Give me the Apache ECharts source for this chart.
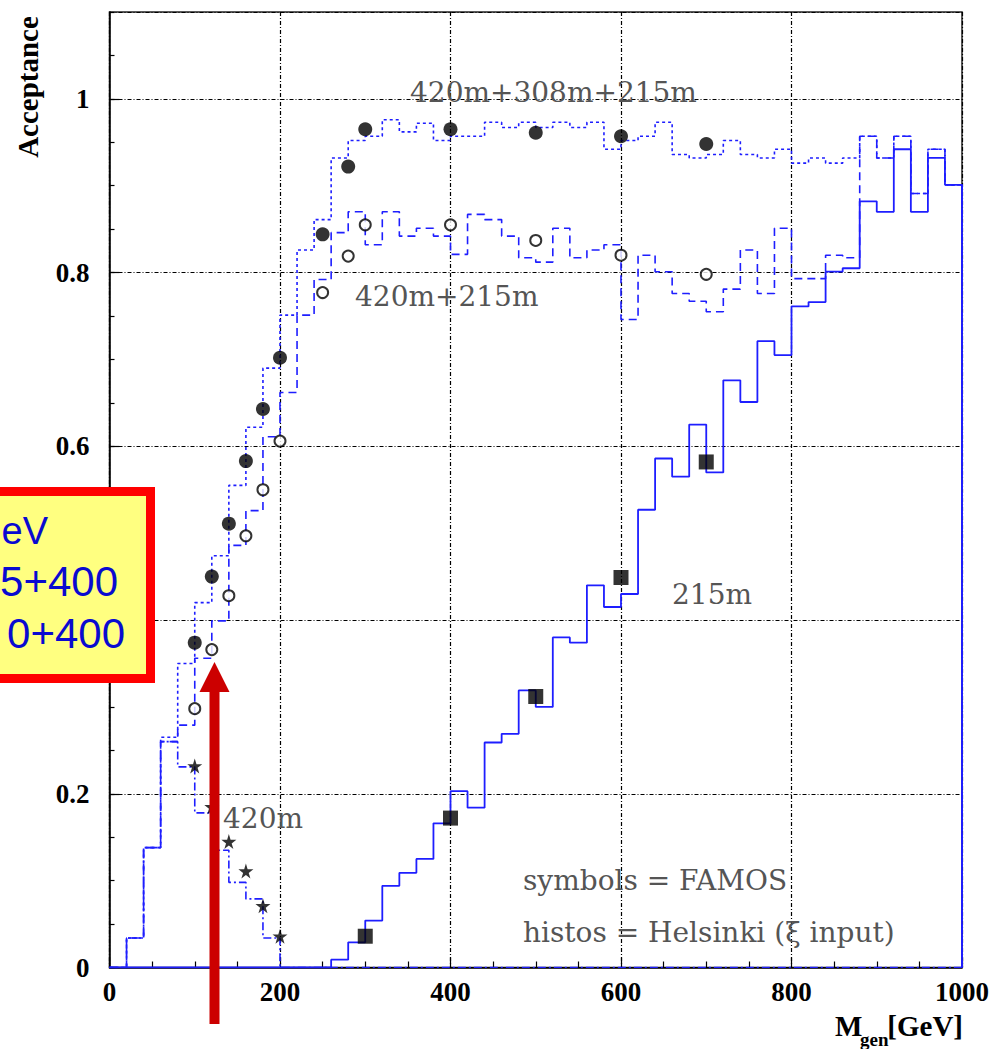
<!DOCTYPE html>
<html>
<head>
<meta charset="utf-8">
<script src="https://cdn.jsdelivr.net/npm/echarts/dist/echarts.min.js"></script>
<style>
  html, body { margin: 0; padding: 0; background: #fff; }
  #chart { width: 1003px; height: 1049px; }
</style>
</head>
<body>
<div id="chart"></div>
<script>
// ---- data (bins of 20 GeV from 0 to 1000) ----
const binWidth = 20;
const xTicks = [0, 200, 400, 600, 800, 1000];
// y tick labels that are visible (0.4 is hidden behind the yellow box in the reference)
const yTickLabels = ['0', '0.2', '0.6', '0.8', '1'];

// 420m+308m+215m (dotted histogram)
const hist420_308_215 = [
  0, 0.034, 0.138, 0.265, 0.350, 0.420, 0.474, 0.555, 0.622, 0.690,
  0.751, 0.826, 0.861, 0.932, 0.952, 0.957, 0.976, 0.962, 0.972, 0.952,
  0.957, 0.957, 0.973, 0.967, 0.973, 0.967, 0.973, 0.967, 0.973, 0.942,
  0.952, 0.957, 0.973, 0.936, 0.932, 0.936, 0.952, 0.936, 0.932, 0.942,
  0.926, 0.932, 0.926, 0.932, 0.957, 0.932, 0.957, 0.891, 0.942, 0.901
];
// 420m+215m (dashed histogram)
const hist420_215 = [
  0, 0.034, 0.138, 0.260, 0.279, 0.356, 0.399, 0.486, 0.526, 0.611,
  0.662, 0.751, 0.792, 0.846, 0.870, 0.832, 0.870, 0.842, 0.851, 0.842,
  0.821, 0.867, 0.861, 0.842, 0.817, 0.812, 0.851, 0.817, 0.826, 0.832,
  0.746, 0.820, 0.801, 0.776, 0.767, 0.755, 0.781, 0.826, 0.776, 0.851,
  0.793, 0.793, 0.820, 0.817, 0.957, 0.932, 0.957, 0.891, 0.942, 0.901
];
// 215m (solid histogram)
const hist215 = [
  0, 0, 0, 0, 0, 0, 0, 0, 0, 0,
  0, 0, 0, 0.009, 0.029, 0.054, 0.094, 0.109, 0.125, 0.166,
  0.203, 0.184, 0.259, 0.269, 0.319, 0.300, 0.380, 0.374, 0.440, 0.415,
  0.430, 0.527, 0.586, 0.565, 0.625, 0.570, 0.676, 0.651, 0.721, 0.705,
  0.761, 0.766, 0.801, 0.805, 0.882, 0.870, 0.942, 0.870, 0.932, 0.901
];
// 420m (dash-dot histogram)
const hist420 = [
  0, 0.034, 0.138, 0.260, 0.231, 0.178, 0.135, 0.098, 0.079, 0.034,
  0, 0, 0, 0, 0, 0, 0, 0, 0, 0,
  0, 0, 0, 0, 0, 0, 0, 0, 0, 0,
  0, 0, 0, 0, 0, 0, 0, 0, 0, 0,
  0, 0, 0, 0, 0, 0, 0, 0, 0, 0
];

// FAMOS points
const famosMass = [100, 120, 140, 160, 180, 200, 250, 280, 300, 400, 500, 600, 700];
const famos420_308_215 = [0.374, 0.450, 0.511, 0.583, 0.643, 0.702, 0.844, 0.922, 0.965, 0.965, 0.961, 0.957, 0.948];
const famos420_215 = [0.298, 0.366, 0.428, 0.497, 0.550, 0.606, 0.777, 0.819, 0.855, 0.855, 0.837, 0.820, 0.798];
const famos420Mass = [100, 120, 140, 160, 180, 200];
const famos420 = [0.232, 0.185, 0.145, 0.111, 0.071, 0.036];
const famos215Mass = [300, 400, 500, 600, 700];
const famos215 = [0.036, 0.172, 0.312, 0.449, 0.582];

// ---- helpers ----
function toSteps(vals) {
  const pts = vals.map((v, i) => [i * binWidth, v]);
  const end = vals.length * binWidth;
  pts.push([end, vals[vals.length - 1]]);
  pts.push([end, 0]);
  return pts;
}
function zip(xs, ys) { return xs.map((x, i) => [x, ys[i]]); }

const BLUE = '#1e1eff';
const starPath = 'path://M50,0 L61,35 L98,35 L68,57 L79,91 L50,70 L21,91 L32,57 L2,35 L39,35 Z';
const tickFont = { fontFamily: '"Liberation Serif", serif', fontWeight: 'bold', fontSize: 27, color: '#000' };
const annFont = '28px "DejaVu Serif", serif';
const annColor = '#555';

const chart = echarts.init(document.getElementById('chart'), null, { renderer: 'svg' });

const option = {
  animation: false,
  backgroundColor: '#fff',
  grid: { left: 109.5, right: 41, top: 12, bottom: 81.5, show: true, borderColor: '#222', borderWidth: 1.5, backgroundColor: 'transparent' },
  xAxis: {
    type: 'value', min: xTicks[0], max: xTicks[xTicks.length - 1], interval: 200,
    axisLine: { show: true, lineStyle: { color: '#000', width: 1.5 } },
    axisTick: { show: true, inside: true, length: 10, lineStyle: { color: '#000', width: 1.2 } },
    minorTick: { show: true, splitNumber: 4, length: 6, lineStyle: { color: '#000', width: 1.2 } },
    axisLabel: Object.assign({ margin: 11, formatter: v => String(v) }, tickFont),
    splitLine: { show: true, lineStyle: { color: '#000', width: 1.2, type: [4, 2, 1, 2] } }
  },
  yAxis: [
    {
      type: 'value', min: 0, max: 1.1, interval: 0.2,
      axisLine: { show: true, lineStyle: { color: '#000', width: 1.5 } },
      axisTick: { show: true, inside: true, length: 10, lineStyle: { color: '#000', width: 1.2 } },
      axisLabel: Object.assign({ margin: 20, showMaxLabel: false, formatter: v => {
        const s = String(Math.round(v * 10) / 10);
        return yTickLabels.indexOf(s) >= 0 ? s : '';
      } }, tickFont),
      splitLine: { show: true, lineStyle: { color: '#000', width: 1.2, type: [4, 2, 1, 2] } }
    },
    {
      type: 'value', min: 0, max: 1.1, interval: 0.05, position: 'left',
      axisLine: { show: false },
      axisTick: { show: true, inside: true, length: 5, lineStyle: { color: '#000', width: 1.2 } },
      axisLabel: { show: false },
      splitLine: { show: false }
    }
  ],
  series: [
    { name: '420m', type: 'line', step: 'end', data: toSteps(hist420), showSymbol: false, symbol: 'none', z: 3,
      lineStyle: { color: BLUE, width: 1.6, type: [8, 3, 2, 3] } },
    { name: '420m+215m', type: 'line', step: 'end', data: toSteps(hist420_215), showSymbol: false, symbol: 'none', z: 3,
      lineStyle: { color: BLUE, width: 1.6, type: [8, 5] } },
    { name: '420m+308m+215m', type: 'line', step: 'end', data: toSteps(hist420_308_215), showSymbol: false, symbol: 'none', z: 3,
      lineStyle: { color: BLUE, width: 1.6, type: [3, 3] } },
    { name: '215m', type: 'line', step: 'end', data: toSteps(hist215), showSymbol: false, symbol: 'none', z: 4,
      lineStyle: { color: BLUE, width: 1.8, type: 'solid' } },
    { name: 'FAMOS 420m+308m+215m', type: 'scatter', data: zip(famosMass, famos420_308_215), symbol: 'circle', symbolSize: 14, z: 6,
      itemStyle: { color: '#000' } },
    { name: 'FAMOS 420m+215m', type: 'scatter', data: zip(famosMass, famos420_215), symbol: 'circle', symbolSize: 11, z: 6,
      itemStyle: { color: '#fff', borderColor: '#000', borderWidth: 2 } },
    { name: 'FAMOS 420m', type: 'scatter', data: zip(famos420Mass, famos420), symbol: starPath, symbolSize: 15, z: 6,
      itemStyle: { color: '#000' } },
    { name: 'FAMOS 215m', type: 'scatter', data: zip(famos215Mass, famos215), symbol: 'rect', symbolSize: 15, z: 6,
      itemStyle: { color: '#000' } }
  ],
  graphic: [
    // axis titles
    { type: 'text', x: 28, y: 87, rotation: Math.PI / 2, z: 20,
      style: { text: 'Acceptance', font: 'bold 29px "Liberation Serif", serif', fill: '#000', align: 'center', verticalAlign: 'middle' } },
    { type: 'text', x: 835, y: 1026, z: 20,
      style: { text: 'M', font: 'bold 29px "Liberation Serif", serif', fill: '#000', align: 'left', verticalAlign: 'middle' } },
    { type: 'text', x: 860, y: 1039, z: 20,
      style: { text: 'gen', font: 'bold 19px "Liberation Serif", serif', fill: '#000', align: 'left', verticalAlign: 'middle' } },
    { type: 'text', x: 963, y: 1026, z: 20,
      style: { text: '[GeV]', font: 'bold 29px "Liberation Serif", serif', fill: '#000', align: 'right', verticalAlign: 'middle' } },
    // annotations
    { type: 'text', x: 410, y: 92, z: 20, style: { text: '420m+308m+215m', font: annFont, fill: annColor, align: 'left', verticalAlign: 'middle' } },
    { type: 'text', x: 355, y: 296, z: 20, style: { text: '420m+215m', font: annFont, fill: annColor, align: 'left', verticalAlign: 'middle' } },
    { type: 'text', x: 672, y: 594, z: 20, style: { text: '215m', font: annFont, fill: annColor, align: 'left', verticalAlign: 'middle' } },
    { type: 'text', x: 223, y: 818, z: 20, style: { text: '420m', font: annFont, fill: annColor, align: 'left', verticalAlign: 'middle' } },
    { type: 'text', x: 523, y: 880, z: 20, style: { text: 'symbols = FAMOS', font: annFont, fill: annColor, align: 'left', verticalAlign: 'middle' } },
    { type: 'text', x: 523, y: 932, z: 20, style: { text: 'histos = Helsinki (\u03be input)', font: annFont, fill: annColor, align: 'left', verticalAlign: 'middle' } },
    // overlay box
    { type: 'rect', z: 30, shape: { x: -20, y: 491.5, width: 170.5, height: 187 },
      style: { fill: '#ffff80', stroke: '#ff0000', lineWidth: 9 } },
    { type: 'text', x: 48, y: 531, z: 31, style: { text: 'eV', font: '38px "Liberation Sans", sans-serif', fill: '#0a0ad0', align: 'right', verticalAlign: 'middle' } },
    { type: 'text', x: 118, y: 581, z: 31, style: { text: '5+400', font: '42px "Liberation Sans", sans-serif', fill: '#0a0ad0', align: 'right', verticalAlign: 'middle' } },
    { type: 'text', x: 125, y: 633, z: 31, style: { text: '0+400', font: '42px "Liberation Sans", sans-serif', fill: '#0a0ad0', align: 'right', verticalAlign: 'middle' } },
    // red arrow
    { type: 'rect', z: 32, shape: { x: 209.5, y: 688, width: 10, height: 336 }, style: { fill: '#cc0000' } },
    { type: 'polygon', z: 32, shape: { points: [[199.5, 692], [229.5, 692], [214.5, 662]] }, style: { fill: '#cc0000' } }
  ]
};
chart.setOption(option);
</script>
</body>
</html>
